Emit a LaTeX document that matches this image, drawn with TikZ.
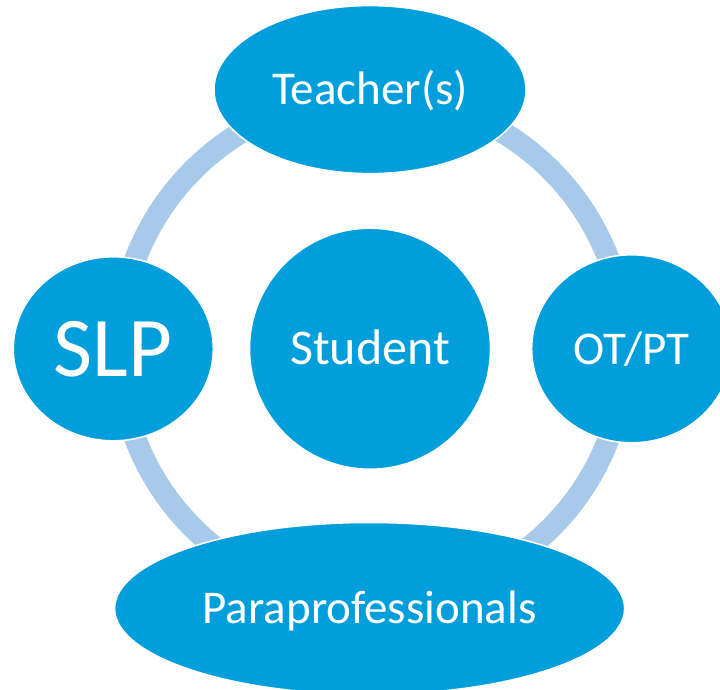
\documentclass[tikz,border=0pt]{standalone}
\usepackage{fontspec}
\setmainfont{Carlito}
\usetikzlibrary{shapes.geometric}
\definecolor{nodeblue}{RGB}{0,158,219}
\definecolor{ringblue}{RGB}{168,202,234}
\tikzset{
  member/.style={ellipse, fill=nodeblue, draw=white, line width=1.5pt,
    inner sep=0pt, text=white, text depth=0pt, align=center},
  ringline/.style={draw=ringblue, line width=22pt}
}
\begin{document}
\begin{tikzpicture}[x=1pt,y=-1pt]
\useasboundingbox (0,0) rectangle (720,689);
\clip (0,0) rectangle (720,689);
\coordinate (ringc) at (372,349);
\draw[ringline] (ringc) circle[radius=253pt];
\node[member, minimum width=312pt, minimum height=168pt,
  font=\fontsize{47}{50}\selectfont, text height=30.5pt] (teacher) at (370,89.6) {Teacher(s)};
\node[member, minimum width=200pt, minimum height=184pt,
  font=\fontsize{85}{90}\selectfont, text height=55pt] (slp) at (113.3,348.8) {SLP};
\node[member, minimum width=200pt, minimum height=188pt,
  font=\fontsize{47}{50}\selectfont, text height=30.5pt] (otpt) at (631.7,348.8) {OT/PT};
\node[member, circle, minimum size=241pt,
  font=\fontsize{50}{54}\selectfont, text height=32.5pt] (student) at (370,348.7) {Student};
\node[member, minimum width=510pt, minimum height=172pt,
  font=\fontsize{47}{50}\selectfont, text height=30.5pt] (para) at (369.6,608.5) {Paraprofessionals};
\end{tikzpicture}
\end{document}
